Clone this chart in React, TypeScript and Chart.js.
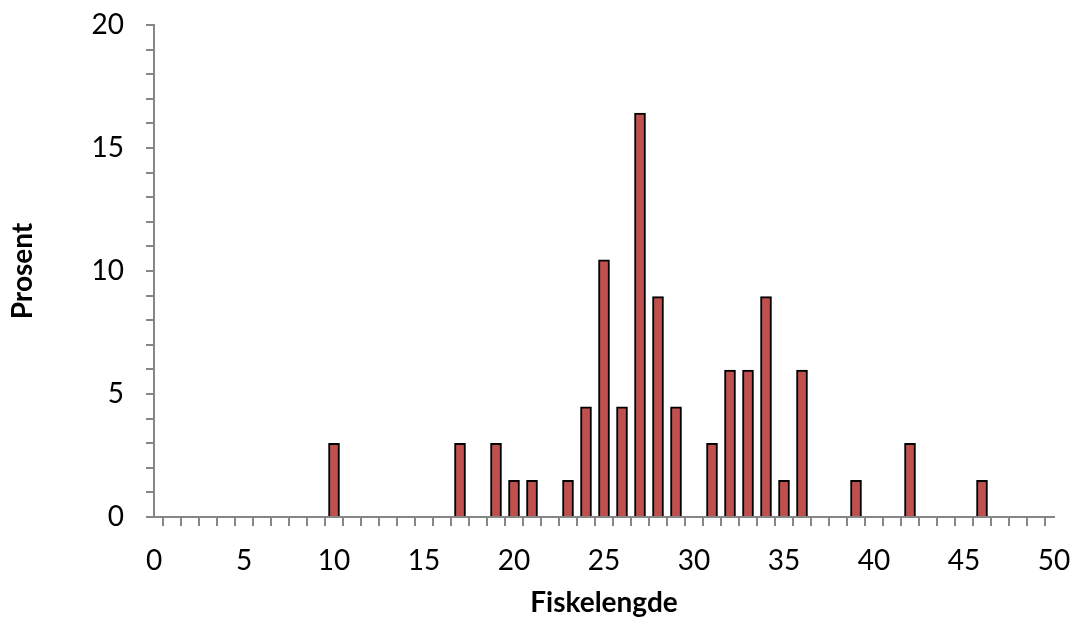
import React, { useEffect, useRef } from "react";
import { Chart, registerables } from "chart.js";

Chart.register(...registerables);

const lengths = [10, 17, 19, 20, 21, 23, 24, 25, 26, 27, 28, 29, 31, 32, 33, 34, 35, 36, 39, 42, 46];
const percents = [2.99, 2.99, 2.99, 1.49, 1.49, 1.49, 4.48, 10.45, 4.48, 16.42, 8.96, 4.48, 2.99, 5.97, 5.97, 8.96, 1.49, 5.97, 1.49, 2.99, 1.49];
const xTitle = "Fiskelengde";
const yTitle = "Prosent";
const xMin = 0, xMax = 50, yMin = 0, yMax = 20;

const AXIS = "#868686";
const FONT = "Lato, 'Open Sans', sans-serif";

export default function App() {
  const ref = useRef<HTMLCanvasElement>(null);
  useEffect(() => {
    if (!ref.current) return;
    const chart = new Chart(ref.current, {
      type: "bar",
      data: {
        datasets: [
          {
            data: lengths.map((x, i) => ({ x, y: percents[i] })),
            backgroundColor: "#C0504D",
            borderColor: "#000000",
            borderWidth: 2,
            barThickness: 11,
          },
        ],
      },
      options: {
        animation: false,
        responsive: false,
        maintainAspectRatio: false,
        layout: { padding: { top: 25, right: 18, left: 0, bottom: 0 } },
        plugins: { legend: { display: false }, tooltip: { enabled: false } },
        scales: {
          x: {
            type: "linear",
            min: xMin,
            max: xMax,
            offset: false,
            border: { color: AXIS, width: 2 },
            grid: { drawOnChartArea: false, drawTicks: true, tickLength: 9, color: AXIS, lineWidth: 2 },
            ticks: {
              stepSize: 1,
              autoSkip: false,
              maxRotation: 0,
              padding: 18,
              color: "#000",
              font: { family: FONT, size: 28 },
              callback: (v: any) => (Number(v) % 5 === 0 ? String(v) : ""),
            },
            title: {
              display: true,
              text: xTitle,
              color: "#000",
              font: { family: FONT, size: 28, weight: "bold" },
              padding: { top: 0, bottom: 2 },
            },
            afterFit: (s: any) => {
              s.height = 105;
              s.paddingLeft = 0;
              s.paddingRight = 0;
              s.paddingTop = 0;
              s.paddingBottom = 0;
            },
          },
          y: {
            min: yMin,
            max: yMax,
            border: { color: AXIS, width: 2 },
            grid: { drawOnChartArea: false, drawTicks: true, tickLength: 8, color: AXIS, lineWidth: 2 },
            ticks: {
              stepSize: 1,
              autoSkip: false,
              padding: 22,
              color: "#000",
              font: { family: FONT, size: 28 },
              callback: (v: any) => (Number(v) % 5 === 0 ? String(v) : ""),
            },
            title: {
              display: true,
              text: yTitle,
              color: "#000",
              font: { family: FONT, size: 28, weight: "bold" },
              padding: { top: 6, bottom: 0 },
            },
            afterFit: (s: any) => {
              s.width = 154;
              s.paddingLeft = 0;
              s.paddingRight = 0;
              s.paddingTop = 0;
              s.paddingBottom = 0;
            },
          },
        },
      },
    });
    return () => chart.destroy();
  }, []);
  return (
    <div style={{ position: "fixed", left: 0, top: 0, width: 1072, height: 622, background: "#fff" }}>
      <canvas ref={ref} width={1072} height={622} />
    </div>
  );
}
